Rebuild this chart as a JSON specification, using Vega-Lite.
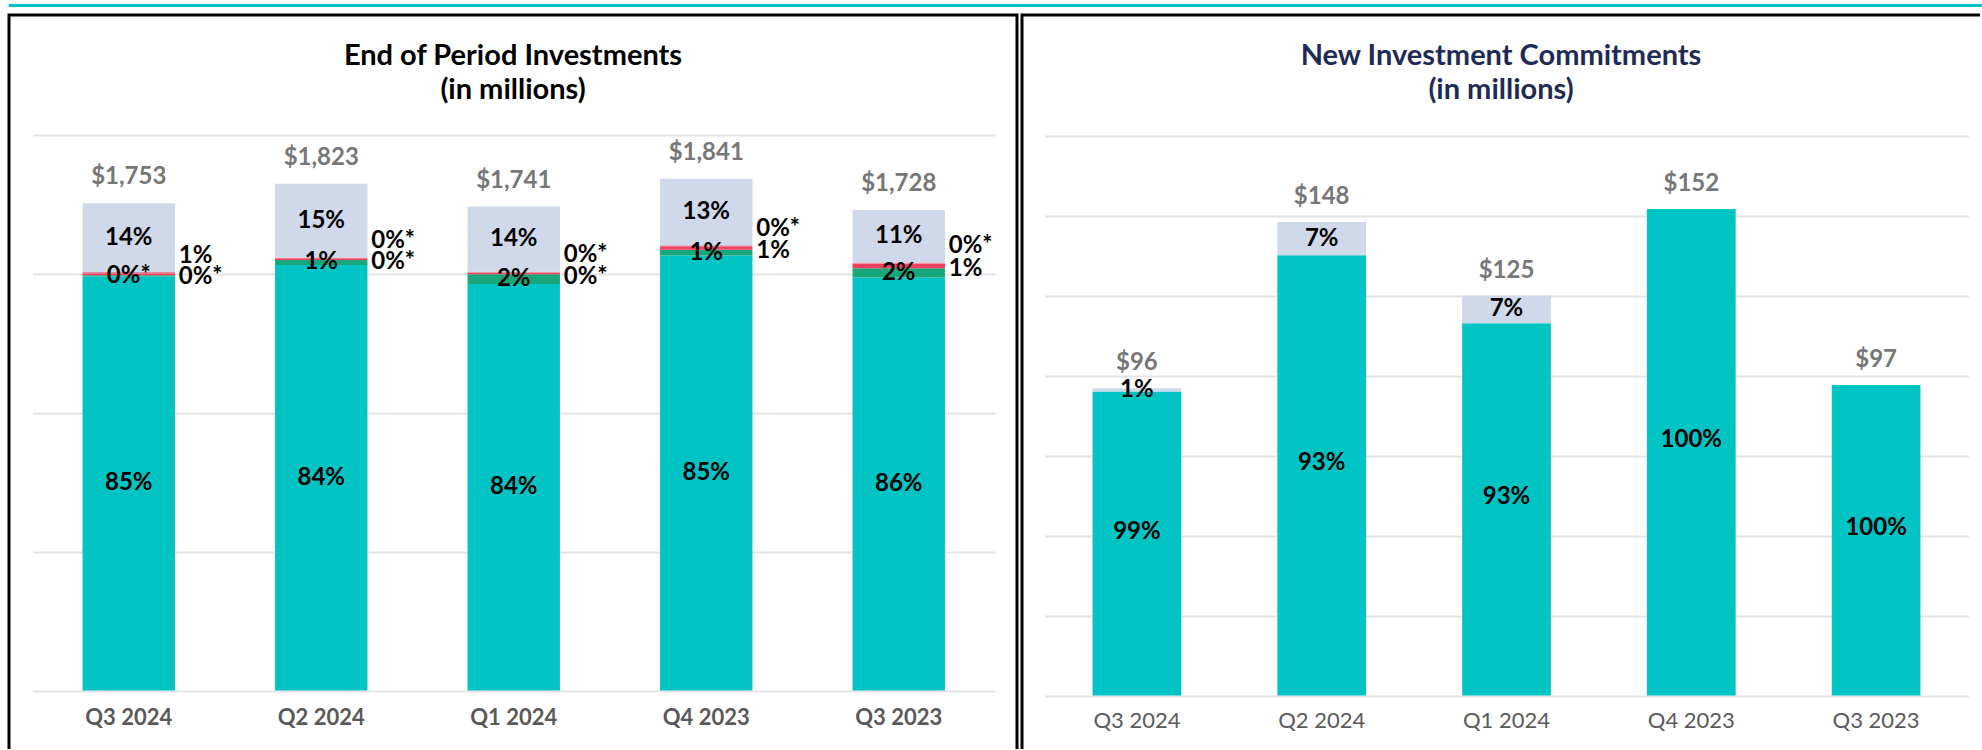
{
  "$schema": "https://vega.github.io/schema/vega-lite/v6.json",
  "padding": {"left": 7, "top": 2, "right": 0, "bottom": 0},
  "background": "#ffffff",
  "config": {"font": "Lato", "view": {"stroke": null}},
  "datasets": {
    "left": [
      {"quarter": "Q3 2024", "ord": 1, "seg": "cat1", "value": 1490, "label": "85%"},
      {"quarter": "Q3 2024", "ord": 2, "seg": "cat2", "value": 4, "label": "0%*"},
      {"quarter": "Q3 2024", "ord": 3, "seg": "cat3", "value": 7, "label": "0%*"},
      {"quarter": "Q3 2024", "ord": 4, "seg": "cat4", "value": 4, "label": "1%"},
      {"quarter": "Q3 2024", "ord": 5, "seg": "cat5", "value": 248, "label": "14%"},
      {"quarter": "Q2 2024", "ord": 1, "seg": "cat1", "value": 1531, "label": "84%"},
      {"quarter": "Q2 2024", "ord": 2, "seg": "cat2", "value": 18, "label": "1%"},
      {"quarter": "Q2 2024", "ord": 3, "seg": "cat3", "value": 6, "label": "0%*"},
      {"quarter": "Q2 2024", "ord": 4, "seg": "cat4", "value": 3, "label": "0%*"},
      {"quarter": "Q2 2024", "ord": 5, "seg": "cat5", "value": 265, "label": "15%"},
      {"quarter": "Q1 2024", "ord": 1, "seg": "cat1", "value": 1462, "label": "84%"},
      {"quarter": "Q1 2024", "ord": 2, "seg": "cat2", "value": 35, "label": "2%"},
      {"quarter": "Q1 2024", "ord": 3, "seg": "cat3", "value": 6, "label": "0%*"},
      {"quarter": "Q1 2024", "ord": 4, "seg": "cat4", "value": 3, "label": "0%*"},
      {"quarter": "Q1 2024", "ord": 5, "seg": "cat5", "value": 235, "label": "14%"},
      {"quarter": "Q4 2023", "ord": 1, "seg": "cat1", "value": 1565, "label": "85%"},
      {"quarter": "Q4 2023", "ord": 2, "seg": "cat2", "value": 20, "label": "1%"},
      {"quarter": "Q4 2023", "ord": 3, "seg": "cat3", "value": 13, "label": "1%"},
      {"quarter": "Q4 2023", "ord": 4, "seg": "cat4", "value": 4, "label": "0%*"},
      {"quarter": "Q4 2023", "ord": 5, "seg": "cat5", "value": 239, "label": "13%"},
      {"quarter": "Q3 2023", "ord": 1, "seg": "cat1", "value": 1486, "label": "86%"},
      {"quarter": "Q3 2023", "ord": 2, "seg": "cat2", "value": 33, "label": "2%"},
      {"quarter": "Q3 2023", "ord": 3, "seg": "cat3", "value": 17, "label": "1%"},
      {"quarter": "Q3 2023", "ord": 4, "seg": "cat4", "value": 4, "label": "0%*"},
      {"quarter": "Q3 2023", "ord": 5, "seg": "cat5", "value": 188, "label": "11%"}
    ],
    "right": [
      {"quarter": "Q3 2024", "ord": 1, "seg": "cat1", "value": 95, "label": "99%"},
      {"quarter": "Q3 2024", "ord": 2, "seg": "cat5", "value": 1, "label": "1%"},
      {"quarter": "Q2 2024", "ord": 1, "seg": "cat1", "value": 137.6, "label": "93%"},
      {"quarter": "Q2 2024", "ord": 2, "seg": "cat5", "value": 10.4, "label": "7%"},
      {"quarter": "Q1 2024", "ord": 1, "seg": "cat1", "value": 116.3, "label": "93%"},
      {"quarter": "Q1 2024", "ord": 2, "seg": "cat5", "value": 8.7, "label": "7%"},
      {"quarter": "Q4 2023", "ord": 1, "seg": "cat1", "value": 152, "label": "100%"},
      {"quarter": "Q4 2023", "ord": 2, "seg": "cat5", "value": 0, "label": ""},
      {"quarter": "Q3 2023", "ord": 1, "seg": "cat1", "value": 97, "label": "100%"},
      {"quarter": "Q3 2023", "ord": 2, "seg": "cat5", "value": 0, "label": ""}
    ]
  },
  "spacing": 4,
  "vconcat": [
    {
      "width": 1975,
      "height": 3,
      "view": {"fill": "#00C4C4", "stroke": null},
      "data": {"values": [{"k": 1}]},
      "mark": {"type": "point", "opacity": 0},
      "encoding": {}
    },
    {
      "spacing": 1,
      "resolve": {"scale": {"x": "independent", "y": "independent"}},
      "hconcat": [
        {
          "width": 1008,
          "height": 734,
          "view": {"stroke": "#000000", "strokeWidth": 3, "strokeDash": [1742, 1008, 740], "fill": null},
          "title": {
            "text": ["End of Period Investments", "(in millions)"],
            "offset": -90,
            "frame": "group",
            "anchor": "middle",
            "font": "Lato",
            "fontSize": 29,
            "fontWeight": "bold",
            "color": "#000000",
            "lineHeight": 34
          },
          "data": {"name": "left"},
          "transform": [
            {"stack": "value", "groupby": ["quarter"], "sort": [{"field": "ord", "order": "ascending"}], "as": ["v0", "v1"]},
            {"calculate": "(datum.v0 + datum.v1) / 2", "as": "mid"}
          ],
          "encoding": {
            "x": {
              "field": "quarter",
              "type": "nominal",
              "sort": ["Q3 2024", "Q2 2024", "Q1 2024", "Q4 2023", "Q3 2023"],
              "scale": {"range": [23.5, 986], "paddingInner": 0.52, "paddingOuter": 0.26},
              "axis": {
                "title": null,
                "orient": "bottom",
                "domain": false,
                "ticks": false,
                "tickSize": 0,
                "labelPadding": 0,
                "labelBaseline": "middle",
                "labelAngle": 0,
                "labelFont": "Lato",
                "labelFontSize": 22,
                "labelFontWeight": "bold",
                "labelColor": "#595959",
                "offset": -31.5,
                "grid": false
              }
            }
          },
          "layer": [
            {
              "mark": {"type": "bar"},
              "encoding": {
                "y": {
                  "field": "v0",
                  "type": "quantitative",
                  "scale": {"domain": [0, 2000], "range": [675.5, 119.5], "nice": false},
                  "axis": {
                    "title": null,
                    "labels": false,
                    "ticks": false,
                    "domain": false,
                    "grid": true,
                    "values": [0, 500, 1000, 1500, 2000],
                    "gridColor": "#e3e3e3",
                    "gridWidth": 2
                  }
                },
                "y2": {"field": "v1"},
                "color": {
                  "field": "seg",
                  "type": "nominal",
                  "scale": {"domain": ["cat1", "cat2", "cat3", "cat4", "cat5"], "range": ["#00C4C4", "#17A77A", "#F2425F", "#E58A9C", "#CFD9E9"]},
                  "legend": null
                }
              }
            },
            {
              "transform": [{"filter": "datum.ord == 1 || datum.ord == 2 || datum.ord == 5"}],
              "mark": {"type": "text", "font": "Lato", "fontSize": 24, "fontWeight": "bold", "color": "#000000", "baseline": "middle"},
              "encoding": {"y": {"field": "mid", "type": "quantitative"}, "text": {"field": "label"}}
            },
            {
              "transform": [{"filter": "datum.ord == 3"}],
              "mark": {"type": "text", "font": "Lato", "fontSize": 24, "fontWeight": "bold", "color": "#000000", "baseline": "middle", "align": "left", "dx": 50, "dy": 3},
              "encoding": {"y": {"field": "mid", "type": "quantitative"}, "text": {"field": "label"}}
            },
            {
              "transform": [{"filter": "datum.ord == 4"}],
              "mark": {"type": "text", "font": "Lato", "fontSize": 24, "fontWeight": "bold", "color": "#000000", "baseline": "middle", "align": "left", "dx": 50, "dy": -17},
              "encoding": {"y": {"field": "mid", "type": "quantitative"}, "text": {"field": "label"}}
            },
            {
              "transform": [{"filter": "datum.ord == 5"}],
              "mark": {"type": "text", "font": "Lato", "fontSize": 24, "fontWeight": "bold", "color": "#777777", "baseline": "middle", "dy": -26},
              "encoding": {"y": {"field": "v1", "type": "quantitative"}, "text": {"field": "v1", "type": "quantitative", "format": "$,.0f"}}
            }
          ]
        },
        {
          "width": 958,
          "height": 734,
          "view": {"stroke": "#000000", "strokeWidth": 3, "strokeDash": [958, 1692, 740], "fill": null},
          "title": {
            "text": ["New Investment Commitments", "(in millions)"],
            "offset": -90,
            "frame": "group",
            "anchor": "middle",
            "font": "Lato",
            "fontSize": 29,
            "fontWeight": "bold",
            "color": "#1F2A55",
            "lineHeight": 34
          },
          "data": {"name": "right"},
          "transform": [
            {"stack": "value", "groupby": ["quarter"], "sort": [{"field": "ord", "order": "ascending"}], "as": ["v0", "v1"]},
            {"calculate": "(datum.v0 + datum.v1) / 2", "as": "mid"}
          ],
          "encoding": {
            "x": {
              "field": "quarter",
              "type": "nominal",
              "sort": ["Q3 2024", "Q2 2024", "Q1 2024", "Q4 2023", "Q3 2023"],
              "scale": {"range": [22.5, 946.5], "paddingInner": 0.52, "paddingOuter": 0.26},
              "axis": {
                "title": null,
                "orient": "bottom",
                "domain": false,
                "ticks": false,
                "tickSize": 0,
                "labelPadding": 0,
                "labelBaseline": "middle",
                "labelAngle": 0,
                "labelFont": "Lato",
                "labelFontSize": 22,
                "labelFontWeight": "normal",
                "labelColor": "#595959",
                "offset": -28.5,
                "grid": false
              }
            }
          },
          "layer": [
            {
              "mark": {"type": "bar"},
              "encoding": {
                "y": {
                  "field": "v0",
                  "type": "quantitative",
                  "scale": {"domain": [0, 175], "range": [680.5, 120.5], "nice": false},
                  "axis": {
                    "title": null,
                    "labels": false,
                    "ticks": false,
                    "domain": false,
                    "grid": true,
                    "values": [0, 25, 50, 75, 100, 125, 150, 175],
                    "gridColor": "#e3e3e3",
                    "gridWidth": 2
                  }
                },
                "y2": {"field": "v1"},
                "color": {
                  "field": "seg",
                  "type": "nominal",
                  "scale": {"domain": ["cat1", "cat2", "cat3", "cat4", "cat5"], "range": ["#00C4C4", "#17A77A", "#F2425F", "#E58A9C", "#CFD9E9"]},
                  "legend": null
                }
              }
            },
            {
              "transform": [{"filter": "datum.ord == 1"}],
              "mark": {"type": "text", "font": "Lato", "fontSize": 24, "fontWeight": "bold", "color": "#000000", "baseline": "middle", "dy": -12},
              "encoding": {"y": {"field": "mid", "type": "quantitative"}, "text": {"field": "label"}}
            },
            {
              "transform": [{"filter": "datum.ord == 2"}],
              "mark": {"type": "text", "font": "Lato", "fontSize": 24, "fontWeight": "bold", "color": "#000000", "baseline": "middle"},
              "encoding": {"y": {"field": "mid", "type": "quantitative"}, "text": {"field": "label"}}
            },
            {
              "transform": [{"filter": "datum.ord == 2"}],
              "mark": {"type": "text", "font": "Lato", "fontSize": 24, "fontWeight": "bold", "color": "#777777", "baseline": "middle", "dy": -25},
              "encoding": {"y": {"field": "v1", "type": "quantitative"}, "text": {"field": "v1", "type": "quantitative", "format": "$,.0f"}}
            }
          ]
        }
      ]
    }
  ]
}
